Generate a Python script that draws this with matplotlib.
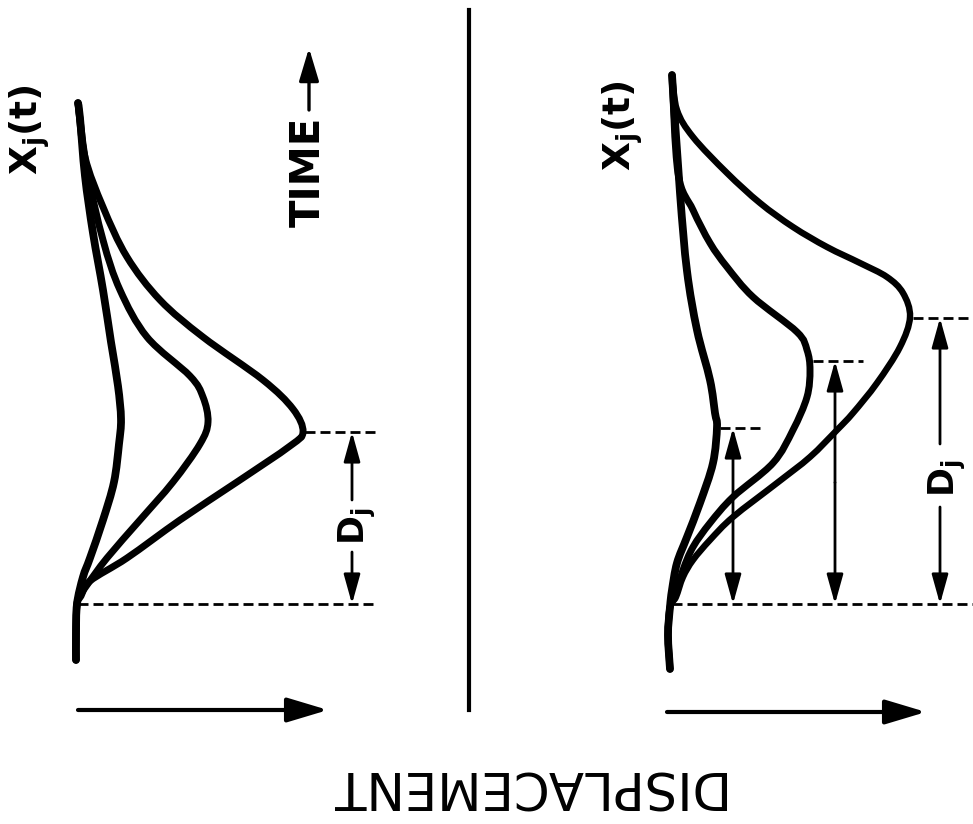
import matplotlib
matplotlib.use("Agg")
import matplotlib.pyplot as plt
from matplotlib.path import Path
from matplotlib.patches import PathPatch

# ---------------- data (displacement d, time t) ----------------
# Left panel: three curves sharing one peak time
left_inner_d = [-1, -1, 0, 6, 13, 26, 37, 42, 44, 41, 34, 26, 16, 8, 3, 1]
left_inner_t = [-56, -30, 0, 27, 46, 84, 122, 160, 185, 218, 262, 314, 371, 428, 486, 501]

left_mid_d = [-1, -1, 0, 3, 10, 30, 63, 96, 123, 131, 126, 113, 70, 43, 26, 10, 1]
left_mid_t = [-56, -30, 0, 8, 19, 46, 84, 122, 160, 182, 207, 228, 267, 314, 364, 434, 501]

left_out_d = [-1, -1, 0, 4, 13, 50, 103, 160, 213, 226, 216, 186, 126, 83, 50, 26, 8, 1]
left_out_t = [-56, -30, 0, 8, 23, 46, 84, 122, 158, 172, 195, 224, 267, 304, 347, 397, 447, 501]

# Right panel: three curves with growing peak time
right_inner_d = [0, -2, 0, 2, 7, 17, 30, 43, 47, 45, 40, 27, 17, 10, 2]
right_inner_t = [-65, -31, -3, 14, 41, 67, 101, 141, 177, 191, 224, 274, 333, 411, 529]

right_mid_d = [0, -2, 0, 5, 13, 23, 40, 63, 103, 123, 137, 140, 137, 127, 83, 57, 40, 23, 8, 2]
right_mid_t = [-65, -31, -3, 8, 34, 57, 81, 107, 141, 174, 207, 234, 254, 272, 307, 337, 361, 394, 431, 529]

right_out_d = [0, -2, 0, 6, 13, 23, 40, 63, 107, 140, 167, 183, 207, 230, 240, 233, 217, 190, 157, 123, 90, 57, 23, 7, 2]
right_out_t = [-65, -31, -3, 7, 27, 44, 64, 87, 121, 147, 174, 191, 221, 257, 287, 311, 327, 341, 357, 377, 401, 431, 467, 494, 529]

left_peak_t = 172
right_peak_t = [176, 243, 286]        # inner, middle, outer peak levels
right_peak_d = [47, 140, 240]

label_time = "TIME"
label_disp = "DISPLACEMENT"
label_x = r"X$_{\mathbf{j}}$(t)"
label_d = r"D$_{\mathbf{j}}$"

# ---------------- figure ----------------
fig = plt.figure(figsize=(9.73, 8.24), dpi=100)
fig.patch.set_facecolor("white")
axL = fig.add_axes([0, 0, 1, 1])
axR = fig.add_axes([0, 0, 1, 1])
axL.set_xlim(-77, 896)
axL.set_ylim(-220, 604)
axR.set_xlim(-670, 303)
axR.set_ylim(-220, 604)
for ax in (axL, axR):
    ax.axis("off")
    ax.patch.set_alpha(0)

K = "black"
dash_kw = dict(color=K, lw=2.0, linestyle=(0, (3.6, 1.8)))


def smooth_curve(ax, xs, ys, lw):
    """Draw the read points as a smooth Bezier path (Catmull-Rom handles)."""
    pts = list(zip(xs, ys))
    n = len(pts)
    verts = [pts[0]]
    codes = [Path.MOVETO]
    for i in range(n - 1):
        p0 = pts[i - 1] if i > 0 else pts[i]
        p1 = pts[i]
        p2 = pts[i + 1]
        p3 = pts[i + 2] if i + 2 < n else pts[i + 1]
        c1 = (p1[0] + (p2[0] - p0[0]) / 6.0, p1[1] + (p2[1] - p0[1]) / 6.0)
        c2 = (p2[0] - (p3[0] - p1[0]) / 6.0, p2[1] - (p3[1] - p1[1]) / 6.0)
        verts += [c1, c2, p2]
        codes += [Path.CURVE4] * 3
    patch = PathPatch(Path(verts, codes), fill=False, lw=lw, edgecolor=K,
                      capstyle="round", joinstyle="round")
    ax.add_patch(patch)


# curves
smooth_curve(axL, left_inner_d, left_inner_t, 5.6)
smooth_curve(axL, left_mid_d, left_mid_t, 5.0)
smooth_curve(axL, left_out_d, left_out_t, 5.0)
smooth_curve(axR, right_inner_d, right_inner_t, 5.6)
smooth_curve(axR, right_mid_d, right_mid_t, 5.0)
smooth_curve(axR, right_out_d, right_out_t, 4.6)


def arrow(ax, x0, y0, x1, y1, lw=2.0, hl=18, hw=5):
    ax.annotate("", xy=(x1, y1), xytext=(x0, y0),
                arrowprops=dict(arrowstyle=f"-|>,head_length={hl},head_width={hw}",
                                mutation_scale=1, lw=lw, color=K,
                                shrinkA=0, shrinkB=0))


# left panel dashed lines + D_j
axL.plot([1, 298], [0, 0], **dash_kw)
axL.plot([228, 298], [left_peak_t, left_peak_t], **dash_kw)
arrow(axL, 275, 104, 275, left_peak_t)
arrow(axL, 275, 52, 275, 0)
axL.text(280, 78, label_d, rotation=90, ha="center", va="center",
         fontsize=25, fontweight="bold")

# TIME label and arrow
axL.text(232, 432, label_time, rotation=90, ha="center", va="center",
         fontsize=29, fontweight="bold")
arrow(axL, 232, 494, 232, 556, lw=2.4, hl=20, hw=6)

# X_j(t) labels
axL.text(-47, 474, label_x, rotation=90, ha="center", va="center",
         fontsize=27, fontweight="bold")
axR.text(-47, 478, label_x, rotation=90, ha="center", va="center",
         fontsize=27, fontweight="bold")

# displacement arrows
arrow(axL, 1, -106, 251, -106, lw=3.0, hl=25, hw=7.5)
arrow(axR, -3, -108, 256, -108, lw=3.0, hl=25, hw=7.5)

# divider
axL.plot([392, 392], [594, -106], color=K, lw=3.0)

# DISPLACEMENT (upside down)
axL.text(447, -180, label_disp, rotation=180, ha="center", va="center",
         fontsize=37)

# right panel dashed lines + arrows
axR.plot([2, 303], [0, 0], **dash_kw)
ends = [90, 193, 303]
for pd, pt, e in zip(right_peak_d, right_peak_t, ends):
    axR.plot([pd + 3, e], [pt, pt], **dash_kw)

# inner and middle: full double arrows
for xa, pt in zip([63, 165], right_peak_t[:2]):
    arrow(axR, xa, pt / 2, xa, pt)
    arrow(axR, xa, pt / 2, xa, 0)
# outer: with label gap
arrow(axR, 270, 160, 270, right_peak_t[2])
arrow(axR, 270, 97, 270, 0)
axR.text(277, 126, label_d, rotation=90, ha="center", va="center",
         fontsize=25, fontweight="bold")

fig.savefig("out.png", dpi=100, facecolor="white")
